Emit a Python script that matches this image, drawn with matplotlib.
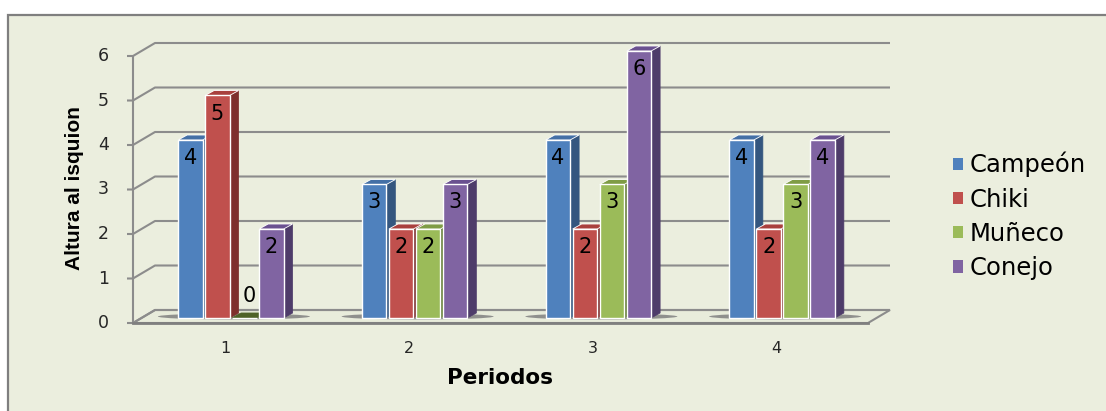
import numpy as np
import matplotlib.pyplot as plt
from matplotlib.patches import Polygon, Rectangle, Patch, Ellipse

# alturas por periodo
periodos = [1, 2, 3, 4]
series = ['Campeón', 'Chiki', 'Muñeco', 'Conejo']
campeon = [4, 3, 4, 4]
chiki = [5, 2, 2, 2]
muneco = [0, 2, 3, 3]
conejo = [2, 3, 6, 4]
valores = [campeon, chiki, muneco, conejo]
y_ticks = [0, 1, 2, 3, 4, 5, 6]

front_c = ['#4F81BD', '#C0504D', '#9BBB59', '#8064A2']
side_c = ['#34567F', '#7E2F2D', '#67803A', '#4E3C6A']
top_c = ['#4470A6', '#A9403D', '#7F9C45', '#6A5190']
zero_c = ['#2C4A6E', '#6E2826', '#4F6228', '#44345C']
grid_c = '#8C8C8C'

W, H = 1106, 411
fig = plt.figure(figsize=(W / 100, H / 100), dpi=100)
fig.patch.set_facecolor('white')
fig.add_artist(Rectangle((8 / W, -0.05), 1.5, 1 - 15 / H + 0.05,
                         transform=fig.transFigure, facecolor='#EBEEDE',
                         edgecolor='#7F7F7F', lw=1.6, zorder=0))

ax = fig.add_axes([139 / W, 93 / H, 735 / W, 267 / H])
ax.set_xlim(0.5, 4.5)
ax.set_ylim(0, 6)
ax.set_axis_off()

# pixel -> data unit conversion for the pseudo-3d depth
sx, sy = ax.transData.transform((1, 1)) - ax.transData.transform((0, 0))
fx, fy = -6 / sx, -5 / sy      # front plane
bx, by = 16 / sx, 8 / sy       # back wall
dx, dy = 9 / sx, 5 / sy        # bar depth

x0, x1 = 0.5, 4.5
kw = dict(color=grid_c, lw=1.5, clip_on=False, solid_capstyle='butt')

# floor
ax.add_patch(Polygon([(x0 + fx, fy), (x1 + fx, fy), (x1 + bx, by), (x0 + bx, by)],
                     closed=True, facecolor='#E8ECDB', edgecolor=grid_c, lw=1.5,
                     clip_on=False, zorder=1))
ax.plot([x0 + fx, x1 + fx], [fy, fy], color='#7F7F7F', lw=2, clip_on=False, zorder=1.2)

# walls, gridlines and y ticks
ax.plot([x0 + fx, x0 + fx], [fy, 6 + fy], zorder=1.1, **kw)
for v in y_ticks:
    ax.plot([x0 + fx - 6 / sx, x0 + fx, x0 + bx, x1 + bx],
            [v + fy, v + fy, v + by, v + by], zorder=1.1, **kw)
    ax.text(x0 + fx - 24 / sx, v + fy, str(v), ha='right', va='center',
            fontsize=12.5, color='#262626', family='DejaVu Sans')

for p in periodos:
    ax.text(p + fx, fy - 25 / sy, str(p), ha='center', va='center',
            fontsize=11.5, color='#262626', family='DejaVu Sans')

# bars
pitch = 27 / sx
width = 24.5 / sx
offs = (np.arange(len(series)) - 1.5) * pitch

for p in periodos:
    ax.add_patch(Ellipse((p + 3 / sx, 1.5 / sy), 4 * pitch + 44 / sx, 6 / sy,
                         facecolor='#808080', edgecolor='none', alpha=0.85,
                         zorder=1.5, clip_on=False))

for si, vals in enumerate(valores):
    xs = np.array(periodos) + offs[si]
    ax.bar(xs, vals, width, color=front_c[si], edgecolor='white', lw=1.0,
           zorder=3, clip_on=False)
    for xc, h in zip(xs, vals):
        a, b = xc - width / 2, xc + width / 2
        ax.add_patch(Polygon([(b, 0), (b + dx, dy), (b + dx, h + dy), (b, h)],
                             facecolor=side_c[si], edgecolor=side_c[si], lw=0.5,
                             zorder=2, clip_on=False))
        ax.add_patch(Polygon([(a, h), (b, h), (b + dx, h + dy), (a + dx, h + dy)],
                             facecolor=top_c[si] if h else zero_c[si],
                             edgecolor='white' if h else zero_c[si], lw=0.6,
                             zorder=2.5, clip_on=False))
        if h:
            ax.annotate(str(h), (xc, h), xytext=(0, -18), textcoords='offset pixels',
                        ha='center', va='center', fontsize=15, zorder=5)
        else:
            ax.annotate(str(h), (xc, h), xytext=(5, 22), textcoords='offset pixels',
                        ha='center', va='center', fontsize=15, zorder=5)

fig.text(500 / W, 1 - 378 / H, 'Periodos', ha='center', va='center',
         fontsize=15.5, fontweight='bold', family='DejaVu Sans')
fig.text(74 / W, 1 - 188 / H, 'Altura al isquion', ha='center', va='center',
         rotation=90, fontsize=15, fontweight='bold', family='Liberation Sans')

handles = [Patch(facecolor=c, edgecolor='none') for c in front_c]
fig.legend(handles, series, loc='center left', bbox_to_anchor=(953 / W, 1 - 216 / H),
           frameon=False, fontsize=17.5, handlelength=0.4, handleheight=0.4,
           handletextpad=0.3, labelspacing=0.42, borderpad=0, borderaxespad=0)

fig.savefig('out.png', dpi=100)
